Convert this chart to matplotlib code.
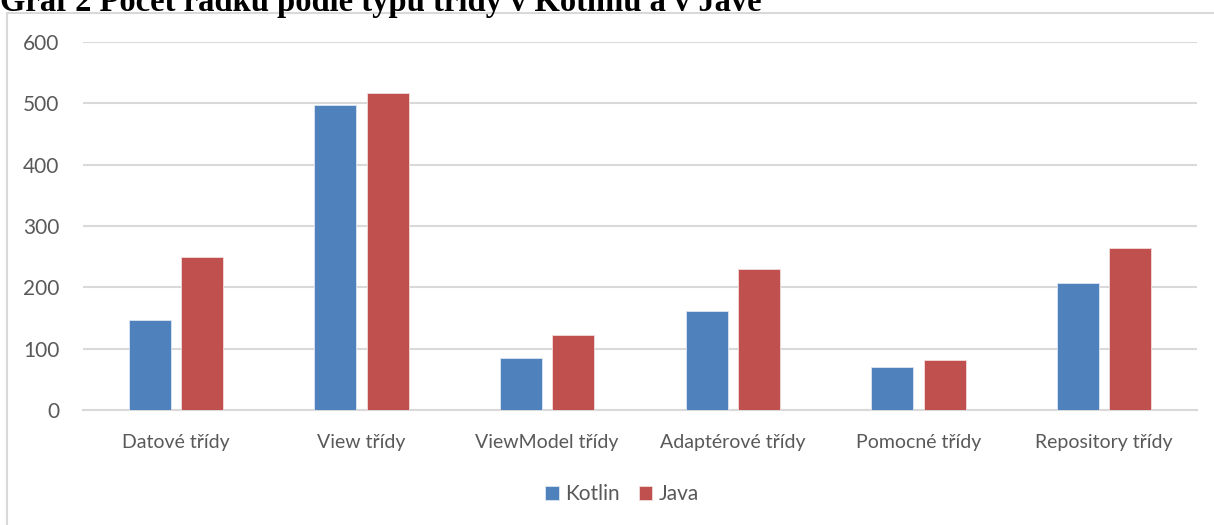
import numpy as np
import matplotlib.pyplot as plt
from matplotlib.patches import Rectangle

# Data
categories = ["Datové třídy", "View třídy", "ViewModel třídy",
              "Adaptérové třídy", "Pomocné třídy", "Repository třídy"]
kotlin = [147, 497, 85, 161, 70, 207]
java = [249, 517, 122, 230, 82, 264]
yticks = [0, 100, 200, 300, 400, 500, 600]

blue = "#4F81BD"
red = "#C0504D"
grid = "#D9D9D9"
text_col = "#595959"

plt.rcParams['font.family'] = ['Lato', 'DejaVu Sans']

fig = plt.figure(figsize=(12.14, 5.25), dpi=100)
ax = fig.add_axes([83 / 1214, 1 - 410 / 525, (1197 - 83) / 1214, (410 - 42) / 525])

x = np.arange(len(categories))
w = 0.225
off = 0.141
ax.bar(x - off, kotlin, w, color=blue, edgecolor="#DCE6F2", linewidth=0.6,
       label="Kotlin", zorder=3)
ax.bar(x + off, java, w, color=red, edgecolor="#F2DCDB", linewidth=0.6,
       label="Java", zorder=3)

ax.set_xlim(-0.5, len(categories) - 0.5)
ax.set_ylim(0, 600)
ax.set_yticks(yticks)
ax.set_xticks(x)
ax.set_xticklabels(categories)
ax.yaxis.grid(True, color=grid, linewidth=1.5, zorder=0)
ax.set_axisbelow(True)
for s in ["top", "right", "left"]:
    ax.spines[s].set_visible(False)
ax.spines["bottom"].set_color(grid)
ax.spines["bottom"].set_linewidth(1.5)
ax.tick_params(axis="both", length=0, colors=text_col)
ax.tick_params(axis="y", pad=17, labelsize=15)
ax.tick_params(axis="x", pad=17, labelsize=14)

ax.legend(loc="center", bbox_to_anchor=(622 / 1214, 1 - 494 / 525),
          bbox_transform=fig.transFigure, ncol=2, frameon=False,
          fontsize=15, handlelength=0.65, handleheight=0.65,
          handletextpad=0.3, columnspacing=0.9, labelcolor=text_col)

# chart frame
fig.patches.append(Rectangle((7 / 1214, -0.1), 1.2, 1.1 - 13 / 525,
                             transform=fig.transFigure, fill=False,
                             edgecolor=grid, linewidth=1.5))

# title, cut off at top of the image
fig.text(0.0, 1 - 11 / 525, "Graf 2 Počet řádků podle typu třídy v Kotlinu a v Javě",
         family=['Liberation Serif', 'DejaVu Serif'], fontweight="bold",
         fontsize=23.5, va="baseline", ha="left", color="black")

fig.savefig("out.png", dpi=100)
